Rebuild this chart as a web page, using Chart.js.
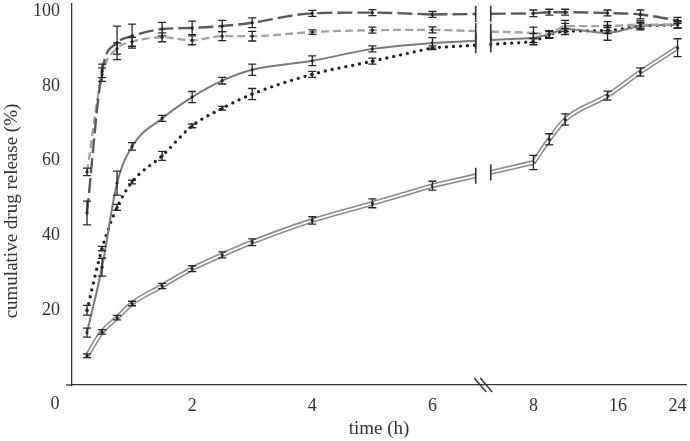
<!DOCTYPE html>
<html>
<head>
<meta charset="utf-8">
<script src="https://cdn.jsdelivr.net/npm/chart.js@4.4.0/dist/chart.umd.min.js"></script>
<style>
html, body { margin: 0; padding: 0; background: #fff; }
#wrap { width: 690px; height: 441px; }
</style>
</head>
<body>
<div id="wrap"><canvas id="release-chart"></canvas></div>
<script>
// sampling times (h)
const hours = [0.25, 0.5, 0.75, 1, 1.5, 2, 2.5, 3, 4, 5, 6, 8, 9.5, 11, 15, 19, 24];
const xTickHours = [0, 2, 4, 6, 8, 16, 24];
const yTickValues = [20, 40, 60, 80, 100];

// cumulative release (%) and error (+/-)
const seriesA = [46, 84, 91.5, 93.3, 95.2, 95.5, 96, 96.9, 99.4, 99.6, 99.1, 99.4, 99.7, 99.7, 99.5, 99.1, 97.5];
const errA    = [3.2, 1.8, 4.5, 3.2, 1.8, 1.8, 1.5, 1.3, 0.8, 0.8, 0.8, 0.9, 0.8, 0.8, 0.8, 1.2, 0.8];
const seriesB = [57, 83, 90, 91.8, 93, 92.2, 93.3, 93.3, 94.4, 94.9, 95, 94.2, 93.8, 96, 96, 96.4, 96.4];
const errB    = [1, 1.8, 1.5, 1.2, 1.2, 1.2, 1.2, 1.3, 0.6, 0.8, 0.8, 1.5, 1, 1.5, 1.2, 1, 1];
const seriesC = [14, 31.5, 54, 63.8, 71.3, 77, 81.4, 84.3, 86.7, 89.9, 91.5, 92.8, 93.8, 95.2, 94.2, 96, 96.4];
const errC    = [1.2, 2.4, 3.2, 1, 0.8, 1.5, 0.9, 1.5, 1.3, 0.8, 1.4, 1.2, 1, 1.5, 2, 1, 1];
const seriesD = [20, 36.5, 47.5, 54.3, 61.3, 69.3, 74, 77.8, 83.1, 86.6, 90.2, 91.8, 93.7, 94.6, 94.8, 96, 96.3];
const errD    = [1.3, 0.6, 0.8, 0.5, 1.2, 0.5, 0.5, 1.5, 0.8, 0.8, 0.5, 0.8, 0.8, 0.8, 0.8, 0.8, 0.8];
const seriesE = [7.8, 14.2, 18, 21.8, 26.5, 31.1, 34.8, 38.2, 44, 48.6, 53.3, 59.5, 65.7, 71, 77.4, 83.7, 90.2];
const errE    = [0.5, 0.6, 0.6, 0.6, 0.7, 0.8, 0.8, 0.9, 1, 1.2, 1.2, 1.9, 1.5, 1.5, 1.2, 1.1, 2.4];

// broken time axis: hours up to the break are linear, after it compressed
const breakHour = 7;
const breakLeft = 6.72, breakRight = 6.97;
const rightAnchors = [[8, 7.68], [16, 9.09], [24, 10.08]];

function toAxis(h) {
  if (h <= breakHour) return h;
  for (let i = 1; i < rightAnchors.length; i++) {
    const [h0, p0] = rightAnchors[i - 1], [h1, p1] = rightAnchors[i];
    if (h <= h1 || i === rightAnchors.length - 1) return p0 + (h - h0) * (p1 - p0) / (h1 - h0);
  }
}

function toPoints(vals) {
  const pts = [];
  hours.forEach((h, i) => {
    if (i > 0 && hours[i - 1] < breakHour && h > breakHour) pts.push({ x: breakHour, y: null });
    pts.push({ x: toAxis(h), y: vals[i] });
  });
  return pts;
}

const family = '"Liberation Serif", "DejaVu Serif", serif';
const font = { family, size: 18 };
const titleFont = { family, size: 19 };
const ink = '#333';

const makeSeries = (vals, errs, style) => Object.assign({
  data: toPoints(vals),
  values: vals,
  errors: errs,
  fill: false,
  cubicInterpolationMode: 'monotone',
  pointRadius: 1.6,
  pointBorderWidth: 0,
  pointBackgroundColor: '#2a2a2a',
  spanGaps: false,
  order: 2,
  breakBars: true
}, style);

const datasets = [
  makeSeries(seriesA, errA, { borderColor: '#5b5b5b', borderWidth: 2.4, borderDash: [15, 5] }),
  makeSeries(seriesB, errB, { borderColor: '#a3a3a3', borderWidth: 2.3, borderDash: [8, 4] }),
  makeSeries(seriesC, errC, { borderColor: '#7a7a7a', borderWidth: 2 }),
  makeSeries(seriesD, errD, { borderColor: '#1e1e1e', borderWidth: 3.3, borderDash: [0, 7], borderCapStyle: 'round' }),
  makeSeries(seriesE, null, { borderColor: '#8c8c8c', borderWidth: 5, pointRadius: 0, order: 1 }),
  makeSeries(seriesE, errE, { borderColor: '#ffffff', borderWidth: 1.8, order: 0, breakBars: false })
];

// line stubs up to the axis break, the break bars and the error bars
const breakPlugin = {
  id: 'breaks',
  afterDatasetsDraw(chart) {
    const { ctx, scales: { x, y } } = chart;
    const nLeft = hours.filter(h => h < breakHour).length;
    chart.data.datasets.forEach(ds => {
      const v = ds.values;
      const x0 = toAxis(hours[nLeft - 1]), x1 = toAxis(hours[nLeft]);
      const slope = (v[nLeft] - v[nLeft - 1]) / (x1 - x0);
      const yL = y.getPixelForValue(v[nLeft - 1] + slope * (breakLeft - x0));
      const yR = y.getPixelForValue(v[nLeft - 1] + slope * (breakRight - x0));
      const pL = x.getPixelForValue(breakLeft), pR = x.getPixelForValue(breakRight);
      ctx.save();
      ctx.strokeStyle = ds.borderColor;
      ctx.lineWidth = ds.borderWidth;
      ctx.setLineDash(ds.borderDash || []);
      ctx.lineCap = ds.borderCapStyle || 'butt';
      ctx.beginPath();
      ctx.moveTo(x.getPixelForValue(x0), y.getPixelForValue(v[nLeft - 1]));
      ctx.lineTo(pL, yL);
      ctx.moveTo(pR, yR);
      ctx.lineTo(x.getPixelForValue(x1), y.getPixelForValue(v[nLeft]));
      ctx.stroke();
      ctx.restore();
    });
    ctx.save();
    ctx.strokeStyle = ink;
    ctx.lineWidth = 1.6;
    chart.data.datasets.forEach(ds => {
      if (!ds.breakBars) return;
      const v = ds.values;
      const x0 = toAxis(hours[nLeft - 1]), x1 = toAxis(hours[nLeft]);
      const slope = (v[nLeft] - v[nLeft - 1]) / (x1 - x0);
      [breakLeft, breakRight].forEach(b => {
        const py = y.getPixelForValue(v[nLeft - 1] + slope * (b - x0));
        const px = x.getPixelForValue(b);
        ctx.beginPath();
        ctx.moveTo(px, py - 8);
        ctx.lineTo(px, py + 8);
        ctx.stroke();
      });
    });
    // error bars
    ctx.strokeStyle = '#262626';
    ctx.lineWidth = 1.3;
    chart.data.datasets.forEach(ds => {
      if (!ds.errors) return;
      hours.forEach((h, i) => {
        const px = x.getPixelForValue(toAxis(h));
        const top = y.getPixelForValue(ds.values[i] + ds.errors[i]);
        const bot = y.getPixelForValue(ds.values[i] - ds.errors[i]);
        ctx.beginPath();
        ctx.moveTo(px, top); ctx.lineTo(px, bot);
        ctx.moveTo(px - 4, top); ctx.lineTo(px + 4, top);
        ctx.moveTo(px - 4, bot); ctx.lineTo(px + 4, bot);
        ctx.stroke();
      });
    });
    // break mark on the time axis, and the axis stub left of the y axis
    const cx = x.getPixelForValue((breakLeft + breakRight) / 2);
    const cy = x.top;
    ctx.strokeStyle = ink;
    ctx.lineWidth = 1.4;
    [-3, 3].forEach(off => {
      ctx.beginPath();
      ctx.moveTo(cx + off - 6, cy - 7);
      ctx.lineTo(cx + off + 6, cy + 7);
      ctx.stroke();
    });
    ctx.lineWidth = 1.3;
    ctx.beginPath();
    ctx.moveTo(x.left - 6, cy);
    ctx.lineTo(x.left, cy);
    ctx.stroke();
    // the "0" label sits left of the vertical axis
    ctx.fillStyle = ink;
    ctx.font = font.size + 'px ' + family;
    ctx.textAlign = 'center';
    ctx.textBaseline = 'top';
    ctx.fillText('0', x.getPixelForValue(0) - 17, x.top + 10);
    // y title, placed a bit below the middle of the axis as in the source
    ctx.font = titleFont.size + 'px ' + family;
    ctx.textBaseline = 'middle';
    ctx.translate(12, 211);
    ctx.rotate(-Math.PI / 2);
    ctx.fillText('cumulative drug release (%)', 0, 0);
    ctx.restore();
  }
};

new Chart(document.getElementById('release-chart'), {
  type: 'line',
  data: { datasets },
  plugins: [breakPlugin],
  options: {
    responsive: true,
    maintainAspectRatio: false,
    animation: false,
    layout: { padding: { top: 0, right: 2, left: 0, bottom: 0 } },
    plugins: { legend: { display: false }, tooltip: { enabled: false } },
    scales: {
      x: {
        type: 'linear',
        min: 0,
        max: 10.22,
        grid: { display: false, drawTicks: false },
        border: { display: true, color: ink, width: 1.3 },
        afterBuildTicks: s => { s.ticks = xTickHours.map(h => ({ value: toAxis(h) })); },
        afterFit: s => { s.height = 56; s.paddingLeft = 0; s.paddingRight = 0; },
        ticks: {
          font, color: ink, padding: 10, maxRotation: 0, autoSkip: false,
          callback: (val, i) => (xTickHours[i] === 0 ? '' : String(xTickHours[i]))
        },
        title: { display: true, text: 'time (h)', font: titleFont, color: ink, padding: { top: 0, bottom: 1 } }
      },
      y: {
        min: 0,
        max: 101.9,
        grid: { display: false, drawTicks: false },
        border: { display: true, color: ink, width: 1.3 },
        afterBuildTicks: s => { s.ticks = yTickValues.map(v => ({ value: v })); },
        afterFit: s => { s.width = 72; s.paddingTop = 0; s.paddingBottom = 0; },
        ticks: { font, color: ink, padding: 12 }
      }
    }
  }
});
</script>
</body>
</html>
